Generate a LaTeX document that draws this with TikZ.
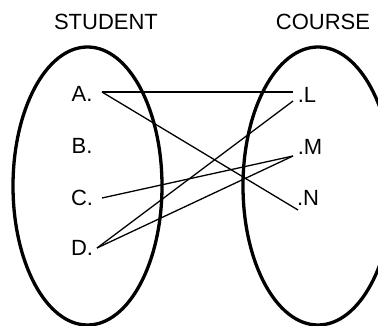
\documentclass[tikz,border=0pt]{standalone}
\usepackage{fontspec}
\setmainfont{Liberation Sans}
\usepackage{tikz}
\usetikzlibrary{positioning}

\begin{document}
\begin{tikzpicture}[x=1pt, y=-1pt, font=\fontsize{22}{24}\selectfont]
  \tikzstyle{set} = [draw, line width=3.3pt]
  \tikzstyle{elem} = [inner sep=0pt, anchor=center]
  \tikzstyle{link} = [draw, line width=1.3pt]

  \useasboundingbox (0,0) rectangle (378,326);
  \clip (0,0) rectangle (378,326);

  % sets
  \node[elem] (Student) at (106,22) {STUDENT};
  \node[elem] (Course) at (323,22) {COURSE};
  \draw[set] (87.5,186) ellipse [x radius=74.5, y radius=139];
  \draw[set] (318,186) ellipse [x radius=75, y radius=139];

  % elements
  \node[elem] (A) at (82,94) {A.};
  \node[elem] (B) at (82,146) {B.};
  \node[elem] (C) at (82,198) {C.};
  \node[elem] (D) at (82,248) {D.};
  \node[elem] (L) at (307,95) {.L};
  \node[elem] (M) at (310,147) {.M};
  \node[elem] (N) at (308,198) {.N};

  % end points
  \coordinate (Aout) at (102,92);
  \coordinate (Cout) at (102,198);
  \coordinate (Dout) at (97,248);
  \coordinate (Lin) at (293,92);
  \coordinate (Lin2) at (293,101);
  \coordinate (Min) at (293,156);
  \coordinate (Nin) at (298,210);

  \path
    (Aout) edge [link] (Lin)
    (Aout) edge [link] (Nin)
    (Cout) edge [link] (Min)
    (Dout) edge [link] (Lin2)
    (Dout) edge [link] (Min);
\end{tikzpicture}
\end{document}
